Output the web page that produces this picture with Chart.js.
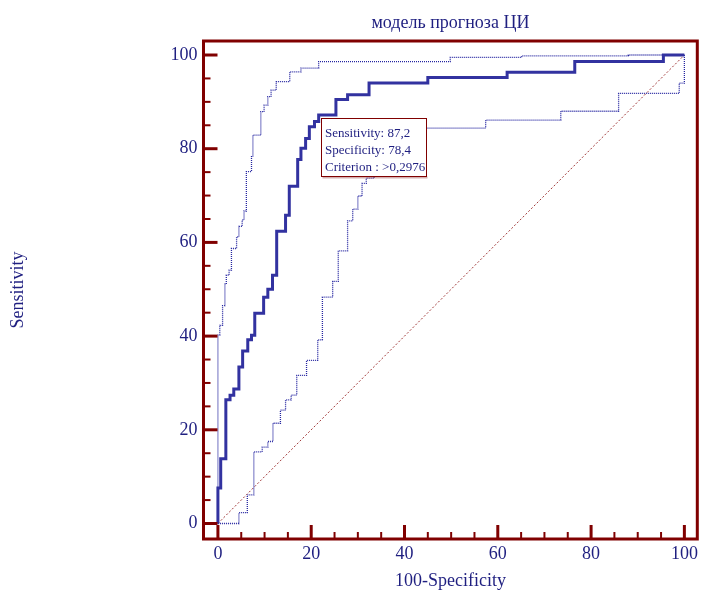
<!DOCTYPE html>
<html><head><meta charset="utf-8">
<script src="https://cdn.jsdelivr.net/npm/chart.js@4.4.0/dist/chart.umd.min.js"></script>
<style>html,body{margin:0;padding:0;background:#fff;}canvas{display:block}</style>
</head><body>
<canvas id="c" width="702" height="592"></canvas>
<script>
const chartTitle = 'модель прогноза ЦИ';
const xAxisTitle = '100-Specificity';
const yAxisTitle = 'Sensitivity';
const tickValues = [0, 20, 40, 60, 80, 100];

const rocX = [0, 0, 0.6, 1.7, 2.6, 3.4, 4.5, 5.3, 6.4, 7.2, 7.9, 9.8, 10.7, 11.7, 12.6, 14.5, 15.3, 17.1, 17.8, 18.8, 19.6, 20.7, 21.6, 25.3, 27.8, 32.4, 45.0, 62.0, 76.5, 95.5, 100];
const rocY = [0, 7.6, 13.8, 26.4, 27.4, 28.7, 33.4, 36.8, 39.2, 40.2, 44.9, 48.3, 50.0, 53.0, 62.4, 65.8, 72.0, 77.7, 80.1, 82.2, 84.7, 85.8, 87.2, 90.5, 91.5, 94.0, 95.2, 96.3, 98.6, 100, 100];

const upperX = [0, 0, 0.4, 1.0, 1.5, 1.8, 2.4, 2.9, 4.0, 4.5, 5.2, 5.6, 6.1, 7.2, 7.5, 9.2, 9.9, 10.7, 11.4, 12.5, 15.4, 17.8, 21.6, 49.8, 65.1, 88.0, 100];
const upperY = [0, 40.2, 42.3, 46.5, 51.1, 53.0, 54.1, 58.7, 61.2, 63.4, 64.8, 66.7, 75.1, 78.3, 82.9, 87.9, 89.3, 91.1, 92.5, 94.3, 96.4, 97.2, 98.6, 99.5, 99.8, 100, 100];

const lowerX = [0, 4.5, 6.3, 7.7, 9.5, 10.7, 11.8, 13.4, 14.5, 15.7, 16.9, 19.0, 21.4, 22.4, 24.6, 25.8, 27.8, 28.9, 30.0, 30.9, 31.8, 33.5, 35.5, 38.0, 57.4, 73.5, 85.9, 98.9, 100];
const lowerY = [0, 2.3, 6.1, 15.3, 16.3, 17.5, 21.4, 24.2, 26.4, 27.4, 31.6, 34.8, 39.2, 48.3, 51.7, 58.2, 64.6, 67.1, 69.9, 72.6, 73.7, 77.0, 80.5, 84.4, 86.1, 88.0, 91.8, 94.0, 100];

const diagX = [0, 100];
const diagY = [0, 100];

const criterionPoint = [21.6, 87.2];
const criterionLines = ['Sensitivity: 87,2', 'Specificity: 78,4', 'Criterion : >0,2976'];

const NAVY = '#1f1f80';
const MAROON = '#800000';
const SERIF = '"Liberation Serif", "Times New Roman", serif';

const pts = (xs, ys) => xs.map((v, i) => ({x: v, y: ys[i]}));

const framePlugin = {
  id: 'frame',
  afterDatasetsDraw(chart) {
    const {ctx, chartArea: a, scales: {x, y}} = chart;
    ctx.save();
    ctx.strokeStyle = MAROON;
    for (let v = 0; v <= 100; v += 5) {
      const major = v % 20 === 0;
      const len = major ? 14 : 7;
      ctx.lineWidth = major ? 3 : 2;
      const px = x.getPixelForValue(v);
      ctx.beginPath(); ctx.moveTo(px, a.bottom); ctx.lineTo(px, a.bottom - len); ctx.stroke();
      const py = y.getPixelForValue(v);
      ctx.beginPath(); ctx.moveTo(a.left, py); ctx.lineTo(a.left + len, py); ctx.stroke();
    }
    ctx.lineWidth = 3;
    ctx.strokeRect(a.left, a.top, a.right - a.left, a.bottom - a.top);

    // criterion annotation box
    const bx = Math.round(x.getPixelForValue(criterionPoint[0]) + 2) + 0.5;
    const by = Math.round(y.getPixelForValue(criterionPoint[1]) + 3) + 0.5;
    const w = 105, h = 58;
    ctx.fillStyle = 'rgba(160,80,80,0.45)';
    ctx.fillRect(bx + 1, by + h, w, 2);
    ctx.fillStyle = '#ffffff';
    ctx.fillRect(bx, by, w, h);
    ctx.lineWidth = 1;
    ctx.strokeStyle = MAROON;
    ctx.strokeRect(bx, by, w, h);
    ctx.fillStyle = NAVY;
    ctx.font = '13px ' + SERIF;
    ctx.textBaseline = 'middle';
    ctx.textAlign = 'left';
    criterionLines.forEach((t, i) => ctx.fillText(t, bx + 3.5, by + 15.5 + i * 17));
    ctx.restore();
  }
};

const axisFont = {family: SERIF, size: 18, weight: 'normal'};

new Chart(document.getElementById('c'), {
  type: 'scatter',
  data: {
    datasets: [
      {data: pts(rocX, rocY), showLine: true, stepped: 'before', borderColor: '#3232a0', borderWidth: 3, pointRadius: 0, fill: false},
      {data: pts(upperX, upperY), showLine: true, stepped: 'before', borderColor: '#2424a0', borderWidth: 1.3, borderDash: [1, 1], pointRadius: 0, fill: false},
      {data: pts(lowerX, lowerY), showLine: true, stepped: 'before', borderColor: '#2424a0', borderWidth: 1.3, borderDash: [1, 1], pointRadius: 0, fill: false},
      {data: pts(diagX, diagY), showLine: true, borderColor: '#a03838', borderWidth: 1, borderDash: [2, 2], pointRadius: 0, fill: false}
    ]
  },
  options: {
    responsive: false,
    animation: false,
    events: [],
    layout: {padding: {left: 7, right: 2, top: 0, bottom: 0}},
    plugins: {
      legend: {display: false},
      tooltip: {enabled: false},
      title: {
        display: true, text: chartTitle, color: NAVY, fullSize: false,
        font: {family: SERIF, size: 18, weight: 'normal'},
        padding: {top: 12, bottom: 7.4}
      }
    },
    scales: {
      x: {
        type: 'linear', min: -3.09, max: 102.77,
        afterBuildTicks: s => { s.ticks = tickValues.map(v => ({value: v})); },
        afterFit: s => { s.height = 53; },
        grid: {display: false, drawTicks: false},
        border: {display: false},
        ticks: {padding: 4, color: NAVY, font: axisFont, maxRotation: 0, autoSkip: false},
        title: {display: true, text: xAxisTitle, color: NAVY, font: axisFont, padding: {top: 0, bottom: 0}}
      },
      y: {
        type: 'linear', min: -3.31, max: 102.99,
        afterBuildTicks: s => { s.ticks = tickValues.map(v => ({value: v})); },
        afterFit: s => { s.width = 196.5; },
        grid: {display: false, drawTicks: false},
        border: {display: false},
        ticks: {padding: 6, color: NAVY, font: axisFont, autoSkip: false},
        title: {display: true, text: yAxisTitle, color: NAVY, font: axisFont, padding: {top: 0, bottom: 0}}
      }
    }
  },
  plugins: [framePlugin]
});
</script>
</body></html>
